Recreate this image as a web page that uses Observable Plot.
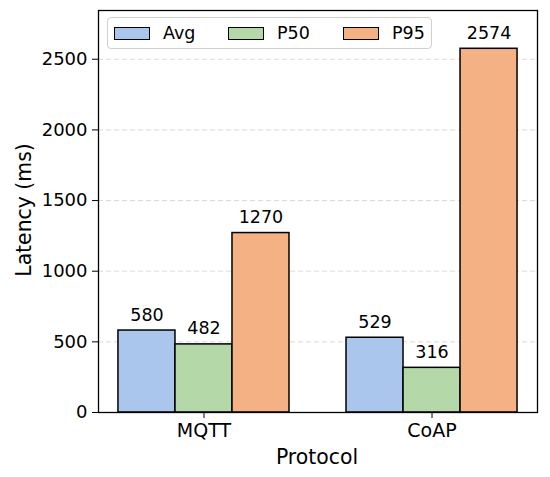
<!DOCTYPE html>
<html>
<head>
<meta charset="utf-8">
<script src="https://cdn.jsdelivr.net/npm/d3@7"></script>
<script src="https://cdn.jsdelivr.net/npm/@observablehq/plot@0.6"></script>
<style>
  body { margin: 0; background: #fff; }
  #wrap { position: relative; width: 550px; height: 477px; font-family: "DejaVu Sans", sans-serif; }
  #legend { position: absolute; left: 107px; top: 17px; width: 325px; height: 32px; border: 1px solid #d0d0d0; border-radius: 4px; background: rgba(255,255,255,0.8); box-sizing: border-box; }
  .item { position: absolute; top: 0; height: 30px; display: flex; align-items: center; font-size: 17.5px; color: #000; }
  .sw { width: 36px; height: 13px; border: 1.5px solid #000; margin-right: 13px; box-sizing: border-box; }
</style>
</head>
<body>
<div id="wrap"></div>
<script>
const protocols = ["MQTT", "CoAP"];
const series = ["Avg", "P50", "P95"];
const avgValues = [580, 529];
const p50Values = [482, 316];
const p95Values = [1270, 2574];
const colors = ["#aac6ec", "#b5d8a8", "#f4b183"];
const yTicks = [0, 500, 1000, 1500, 2000, 2500];
const yMax = 2845;

const seriesValues = [avgValues, p50Values, p95Values];
const barWidth = 0.25;
const data = [];
protocols.forEach((p, i) => {
  series.forEach((s, j) => {
    const center = i + (j - 1) * barWidth;
    data.push({protocol: p, series: s, x1: center - barWidth / 2, x2: center + barWidth / 2, xc: center, value: seriesValues[j][i]});
  });
});

const chart = Plot.plot({
  width: 550,
  height: 477,
  marginLeft: 98,
  marginRight: 13,
  marginTop: 10,
  marginBottom: 65,
  style: {fontFamily: "DejaVu Sans, sans-serif", fontSize: "17.5px", color: "#000", background: "#fff"},
  x: {domain: [-0.4625, 1.4625], label: null},
  y: {domain: [0, yMax], label: null},
  color: {domain: series, range: colors},
  marks: [
    Plot.gridY(yTicks.slice(1), {stroke: "#cfcfcf", strokeOpacity: 1, strokeDasharray: "5,3", strokeWidth: 0.8}),
    Plot.rectY(data, {x1: "x1", x2: "x2", y1: 0, y2: "value", fill: "series", stroke: "#000", strokeWidth: 1.5}),
    Plot.text(data, {x: "xc", y: "value", text: d => String(d.value), lineAnchor: "bottom", dy: -10, fontSize: 17.5, fill: "#000"}),
    Plot.axisX({ticks: [0, 1], tickFormat: i => protocols[i], tickSize: 6, tickPadding: 5, fontSize: 19, label: null}),
    Plot.axisY({ticks: yTicks, tickFormat: d3.format("d"), tickSize: 6, tickPadding: 5, fontSize: 18, label: null}),
    Plot.frame({stroke: "#000", strokeWidth: 1.3})
  ]
});
const wrap = document.getElementById("wrap");
wrap.appendChild(chart);

const svg = d3.select(chart);

// axis titles
svg.append("text").attr("x", 317).attr("y", 458).attr("text-anchor", "middle").attr("dominant-baseline", "middle")
  .attr("font-size", 20.4).attr("fill", "#000").text("Protocol");
svg.append("text").attr("transform", "translate(25,210) rotate(-90)").attr("text-anchor", "middle").attr("dominant-baseline", "middle")
  .attr("font-size", 20.4).attr("fill", "#000").text("Latency (ms)");

// legend
const legend = document.createElement("div");
legend.id = "legend";
const lefts = [6, 120, 235];
series.forEach((s, j) => {
  const it = document.createElement("div");
  it.className = "item";
  it.style.left = lefts[j] + "px";
  const sw = document.createElement("div");
  sw.className = "sw";
  sw.style.background = colors[j];
  const t = document.createElement("span");
  t.textContent = s;
  it.appendChild(sw);
  it.appendChild(t);
  legend.appendChild(it);
});
wrap.appendChild(legend);
</script>
</body>
</html>
